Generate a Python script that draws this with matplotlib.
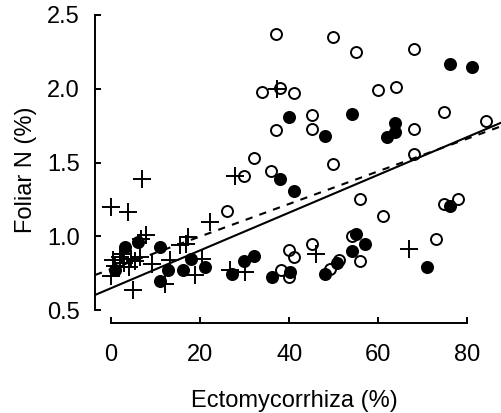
import matplotlib
matplotlib.use("Agg")
import matplotlib.pyplot as plt

plt.rcParams['font.family'] = ['Liberation Sans', 'DejaVu Sans']

# Open circles
open_x = [37.0, 34.0, 37.9, 41.1, 37.0, 32.0, 29.9, 35.9, 26.0, 49.9, 54.9, 68.0,
          60.0, 64.0, 45.1, 45.1, 68.0, 74.8, 84.1, 49.9, 68.0, 55.9, 74.8, 78.0,
          61.0, 45.1, 49.1, 51.2, 54.0, 55.9, 73.0, 38.1, 40.0, 40.0, 41.1]
open_y = [2.37, 1.976, 2.003, 1.97, 1.72, 1.53, 1.41, 1.44, 1.175, 2.35, 2.25, 2.27,
          1.99, 2.01, 1.82, 1.73, 1.73, 1.84, 1.78, 1.49, 1.56, 1.25, 1.22, 1.25,
          1.14, 0.95, 0.78, 0.84, 1.00, 0.835, 0.985, 0.772, 0.723, 0.908, 0.862]

# Filled circles
fill_x = [40.0, 37.9, 41.1, 76.0, 81.0, 54.0, 48.0, 63.8, 61.9, 63.8, 76.1, 48.0,
          50.8, 55.0, 57.0, 54.0, 71.0, 27.1, 29.9, 32.0, 36.1, 40.1, 3.1, 6.1,
          10.9, 0.8, 12.8, 16.2, 10.9, 18.0, 21.1]
fill_y = [1.81, 1.39, 1.31, 2.17, 2.15, 1.83, 1.68, 1.77, 1.67, 1.71, 1.205, 0.745,
          0.82, 1.016, 0.946, 0.903, 0.795, 0.742, 0.83, 0.867, 0.725, 0.761, 0.928, 0.96,
          0.928, 0.77, 0.77, 0.77, 0.70, 0.849, 0.79]

# Plus markers
plus_x = [37.2, 27.8, 7.0, 0.0, 3.9, 46.0, 67.0, 26.7, 30.0, 7.9, 6.7, 17.3, 16.9,
          15.6, 22.2, 4.9, 12.1, 18.9, 13.2, 9.3, 20.4, 0.0,
          0.5, 2.0, 3.0, 4.5, 5.5, 2.5, 1.0, 4.0, 6.5]
plus_y = [2.0, 1.41, 1.39, 1.20, 1.165, 0.878, 0.915, 0.775, 0.757, 1.007, 0.985, 0.996, 0.95,
          0.94, 1.10, 0.64, 0.68, 0.74, 0.84, 0.81, 0.85, 0.73,
          0.84, 0.86, 0.82, 0.85, 0.83, 0.88, 0.80, 0.79, 0.86]

# Regression lines (intercept, slope)
solid_line = (0.649, 0.0128)
dashed_line = (0.778, 0.01105)

x_ticks = [0, 20, 40, 60, 80]
y_ticks = [0.5, 1.0, 1.5, 2.0, 2.5]
y_tick_labels = ["0.5", "1.0", "1.5", "2.0", "2.5"]

W, H = 501, 413
fig = plt.figure(figsize=(W / 100, H / 100), dpi=100)
left_px, right_px, top_px, bottom_px = 95, 501, 8, 322.7
ax = fig.add_axes([left_px / W, (H - bottom_px) / H,
                   (right_px - left_px) / W, (bottom_px - top_px) / H])
ax.set_xlim(-3.59, 87.56)
ax.set_ylim(0.4153, 2.547)

ax.plot(open_x, open_y, linestyle='none', marker='o', ms=7.9,
        mfc='none', mec='black', mew=1.4, clip_on=False)
ax.plot(fill_x, fill_y, linestyle='none', marker='o', ms=9.4,
        mfc='black', mec='black', mew=0, clip_on=False)
ax.plot(plus_x, plus_y, linestyle='none', marker='+', ms=12.8,
        mec='black', mew=1.4, clip_on=False)

ax.axline((0, solid_line[0]), slope=solid_line[1], color='black', lw=1.5)
ax.axline((0, dashed_line[0]), slope=dashed_line[1], color='black', lw=1.5,
          linestyle=(0, (3.5, 3.5)))

for s in ['top', 'right']:
    ax.spines[s].set_visible(False)
ax.spines['left'].set_bounds(0.5, 2.5)
ax.spines['bottom'].set_bounds(0, 80)
for s in ['left', 'bottom']:
    ax.spines[s].set_linewidth(1.4)

ax.set_xticks(x_ticks)
ax.set_yticks(y_ticks)
ax.set_yticklabels(y_tick_labels)
ax.tick_params(axis='both', direction='in', length=4.5, width=1.4, labelsize=17)
ax.tick_params(axis='y', pad=11)
ax.tick_params(axis='x', pad=15)

fig.text(294 / W, (H - 407) / H, "Ectomycorrhiza (%)", fontsize=17,
         ha='center', va='baseline')
fig.text(31.7 / W, (H - 170) / H, "Foliar N (%)", fontsize=17, rotation=90,
         rotation_mode='anchor', ha='center', va='baseline')

fig.savefig("out.png", dpi=100)
